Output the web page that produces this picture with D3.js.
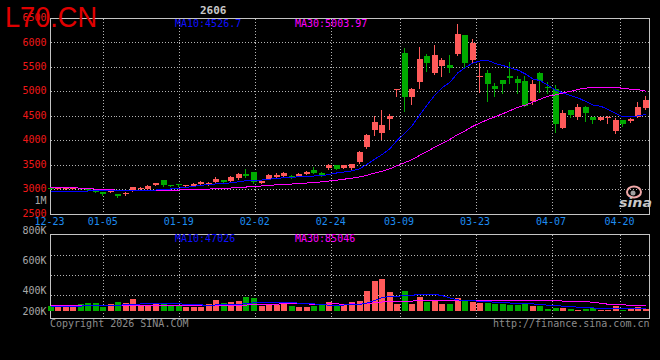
<!DOCTYPE html>
<html><head><meta charset="utf-8">
<script src="https://cdn.jsdelivr.net/npm/d3@7/dist/d3.min.js"></script>
<style>html,body{margin:0;padding:0;background:#000;overflow:hidden}</style>
</head><body><svg id="c" width="660" height="360"></svg>
<script>
const dates=["12-23","12-24","12-25","12-26","12-29","12-30","12-31",
"01-05","01-06","01-07","01-08","01-09","01-12","01-13","01-14","01-15","01-16",
"01-19","01-20","01-21","01-22","01-23","01-26","01-27","01-28","01-29","01-30",
"02-02","02-03","02-04","02-05","02-06","02-09","02-10","02-11","02-12","02-13",
"02-24","02-25","02-26","02-27","03-02","03-03","03-04","03-05","03-06",
"03-09","03-10","03-11","03-12","03-13","03-16","03-17","03-18","03-19","03-20",
"03-23","03-24","03-25","03-26","03-27","03-30","03-31","04-01","04-02","04-03",
"04-07","04-08","04-09","04-10","04-13","04-14","04-15","04-16","04-17",
"04-20","04-21","04-22","04-23","04-24"];
const open=[3030,3005,3010,3015,3025,3000,2966,2935,2946,2895,2890,2970,3015,3000,3082,3177,3075,3095,3075,3068,
3095,3095,3136,3190,3156,3224,3313,3340,3129,3211,3245,3258,3272,3272,3306,3394,3333,3428,3483,3435,
3422,3544,3857,4210,4149,4442,5020,5781,4884,5196,5720,5373,5523,5543,5768,6150,5640,5285,5373,5115,
5237,5319,5251,5210,4809,5373,5094,5040,4258,4618,4482,4686,4475,4414,4462,4197,4414,4400,4482,4652];
const high=[3045,3030,3045,3040,3030,3005,2975,2945,2968,2900,2930,3048,3045,3075,3130,3185,3080,3110,3092,3115,
3155,3135,3238,3195,3258,3333,3415,3345,3165,3313,3333,3347,3292,3320,3360,3442,3340,3510,3490,3497,
3510,3770,4125,4503,4625,4537,5047,5883,5067,5897,5761,5951,5679,5740,6380,6160,6068,5570,5434,5162,
5240,5598,5312,5312,5230,5400,5183,5128,4618,4625,4741,4690,4480,4480,4503,4448,4420,4460,4788,4905];
const low=[2995,2995,3005,3000,2995,2975,2930,2885,2935,2840,2880,2960,3000,2995,3075,3070,3055,3070,3070,3060,
3090,3090,3130,3136,3150,3204,3250,3125,3120,3205,3224,3250,3224,3265,3300,3326,3272,3420,3408,3428,
3394,3540,3830,4115,4034,4238,4904,4605,4741,5067,5421,5353,5319,5394,5750,5502,5590,4992,4809,4911,
4972,5162,4972,4700,4741,4992,4958,4176,4258,4482,4435,4400,4346,4405,4360,4142,4292,4380,4475,4640];
const close=[3005,3020,3030,3022,3000,2985,2939,2895,2960,2850,2925,3041,3022,3068,3122,3075,3061,3075,3088,3095,
3150,3129,3211,3150,3238,3313,3258,3135,3156,3279,3292,3320,3230,3313,3354,3333,3279,3483,3415,3490,
3503,3762,4115,4374,4312,4496,5040,4884,5047,5659,5577,5740,5638,5475,6176,5584,5993,5319,5156,5047,
5156,5271,5162,4700,5149,5217,5060,4333,4564,4516,4673,4550,4414,4475,4482,4414,4333,4430,4686,4822];
const ma10=[2952,2952,2950,2940,2940,2960,2972,2972,2972,2971,2963,2965,2964,2969,2981,2990,3002,3020,3033,3057,
3080,3089,3107,3116,3127,3151,3171,3177,3184,3202,3216,3235,3237,3253,3265,3267,3269,3304,3330,3351,
3372,3416,3505,3611,3707,3823,3999,4139,4302,4519,4727,4924,5077,5187,5373,5482,5577,5621,5632,5571,
5528,5482,5434,5356,5254,5217,5124,5025,4966,4913,4865,4792,4718,4695,4628,4548,4475,4485,4497,4527];
const ma30=[3034,3033,3027,3024,3020,3014,2998,2993,2985,2975,2968,2966,2966,2966,2968,2972,2975,2980,2986,2992,
2995,3000,3008,3015,3022,3032,3042,3052,3064,3077,3086,3096,3103,3113,3124,3136,3147,3167,3182,3203,
3223,3247,3283,3327,3366,3414,3480,3540,3605,3691,3772,3859,3940,4017,4115,4191,4282,4355,4421,4480,
4542,4607,4672,4718,4778,4841,4900,4928,4967,5001,5040,5066,5076,5079,5085,5082,5059,5044,5032,5004];
const volume=[56,42,42,42,70,81,81,42,70,92,81,123,56,56,81,81,56,56,42,42,
42,70,113,81,92,102,144,134,56,66,66,81,49,42,42,56,66,92,66,68,
92,102,207,313,334,197,70,207,70,144,92,113,70,70,134,113,92,81,81,70,
70,60,60,70,49,49,18,35,28,18,11,18,28,11,11,50,11,28,39,25].map(v=>v*1000);
const volMa10=[49,49,49,49,52,56,56,56,58,62,64,72,74,75,76,76,74,75,72,67,
64,58,64,66,68,70,78,86,88,90,92,94,87,83,78,74,66,62,63,63,
65,68,83,110,140,154,154,166,166,174,174,175,161,137,117,108,111,98,99,92,
89,84,83,83,75,68,61,56,51,46,40,36,32,27,23,23,22,21,23,23].map(v=>v*1000);
const volMa30=[57,57,57,57,57,57,57,57,57,57,57,63,63,63,63,63,63,63,63,63,
63,63,63,63,63,63,63,68,70,73,73,75,75,75,74,73,73,74,74,73,
74,73,78,87,95,99,99,105,105,109,111,112,111,110,112,112,110,108,109,109,
110,109,109,110,110,110,109,107,105,104,101,98,92,82,71,66,65,59,58,54].map(v=>v*1000);
const priceTicks=[6500,6000,5500,5000,4500,4000,3500,3000,2500];
const priceGrid=[6000,5500,5000,4500,4000,3500,3000];
const dateTicks=["12-23","01-05","01-19","02-02","02-24","03-09","03-23","04-07","04-20"];
const volTicks=[800000,600000,400000,200000];
const volTickText=["800K","600K","400K","200K"];
const legendMain=["MA10:4526.7","MA30:5003.97"];
const legendVol=["MA10:47026","MA30:85046"];

const svg=d3.select("#c");
svg.append("rect").attr("width",660).attr("height",360).attr("fill","#000");
const mono="'DejaVu Sans Mono', monospace";
const L=50.5,R=649.5;
const x=d3.scaleLinear().domain([0,dates.length-1]).range([50.5,646]);
const xGrid=d3.scaleLinear().domain([0,75]).range([50,620]);
const y=d3.scaleLinear().domain([2500,6500]).range([213.5,18]);
const yv=d3.scaleLinear().domain([0,800000]).range([311,235]);
const yvLab=d3.scaleLinear().domain([200000,800000]).range([320.5,230.7]);
const vTop=234.5,vBot=318.5;
const yvGrid=d3.scaleLinear().domain([0,4]).range([vTop,vTop+81]);
const px=v=>Math.round(v)+0.5;
const RED="#ff5a5a",GRN="#00aa00";
const grid=svg.append("g").attr("stroke","#b4b4b4").attr("stroke-dasharray","1,2").attr("shape-rendering","crispEdges");
const pTop=px(y(6500)),pBot=px(y(2500));
priceGrid.forEach(p=>grid.append("line").attr("x1",L).attr("x2",R).attr("y1",px(y(p))).attr("y2",px(y(p))));
dateTicks.slice(1).forEach(d=>{
  const gx=px(xGrid(dates.indexOf(d)));
  grid.append("line").attr("x1",gx).attr("x2",gx).attr("y1",pTop).attr("y2",pBot);
  grid.append("line").attr("x1",gx).attr("x2",gx).attr("y1",vTop).attr("y2",vBot);
});
[1,2,3].forEach(k=>grid.append("line").attr("x1",L).attr("x2",R).attr("y1",px(yvGrid(k))).attr("y2",px(yvGrid(k))));
const bord=svg.append("g").attr("fill","none").attr("stroke","#c4c4c4").attr("shape-rendering","crispEdges");
bord.append("rect").attr("x",L).attr("y",pTop).attr("width",R-L).attr("height",pBot-pTop);
bord.append("rect").attr("x",L).attr("y",vTop).attr("width",R-L).attr("height",vBot-vTop);

// candles and volume bars
const cg=svg.append("g").attr("shape-rendering","crispEdges");
dates.forEach((d,i)=>{
  const up=close[i]>=open[i];
  const col=up?RED:GRN;
  const left=Math.round(x(i)-3);
  cg.append("line").attr("x1",left+2.5).attr("x2",left+2.5).attr("y1",Math.round(y(high[i]))).attr("y2",Math.round(y(low[i]))+1).attr("stroke",col);
  const t=Math.round(y(Math.max(open[i],close[i]))),b=Math.round(y(Math.min(open[i],close[i])));
  cg.append("rect").attr("x",left).attr("y",t).attr("width",6).attr("height",Math.max(1,b-t)).attr("fill",col);
  const vt=Math.round(yv(volume[i]));
  cg.append("rect").attr("x",left).attr("y",vt).attr("width",6).attr("height",Math.max(1,311-vt)).attr("fill",col);
});
// MA lines
const lineP=d3.line().x((d,i)=>x(i)).y(d=>y(d));
const lineV=d3.line().x((d,i)=>x(i)).y(d=>yv(d));
const mg=svg.append("g").attr("fill","none").attr("stroke-width",1).attr("shape-rendering","crispEdges");
mg.append("path").attr("d",lineP(ma30)).attr("stroke","#ff00ff");
mg.append("path").attr("d",lineP(ma10)).attr("stroke","#0000ff");
mg.append("path").attr("d",lineV(volMa30)).attr("stroke","#ff00ff");
mg.append("path").attr("d",lineV(volMa10)).attr("stroke","#0000ff");

// texts
const tg=svg.append("g").attr("font-family",mono).attr("font-size",10);
priceTicks.forEach(p=>tg.append("text").attr("x",46.5).attr("y",y(p)+3.1).attr("text-anchor","end").attr("fill","#f01818").text(p));
tg.append("text").attr("x",46.5).attr("y",203.6).attr("text-anchor","end").attr("fill","#a8a8a8").text("1M");
dateTicks.forEach(d=>tg.append("text").attr("x",xGrid(dates.indexOf(d))-0.5).attr("y",225).attr("text-anchor","middle").attr("fill","#1e8cf0").text(d));
volTicks.forEach((v,k)=>tg.append("text").attr("x",46.5).attr("y",Math.min(yvLab(v),311)+3.6).attr("text-anchor","end").attr("fill","#a8a8a8").text(volTickText[k]));
tg.append("text").attr("x",175).attr("y",26.8).attr("fill","#1010ff").text(legendMain[0]);
tg.append("text").attr("x",295).attr("y",26.8).attr("fill","#ff00ff").text(legendMain[1]);
tg.append("text").attr("x",175).attr("y",241.8).attr("fill","#1010ff").text(legendVol[0]);
tg.append("text").attr("x",295).attr("y",241.8).attr("fill","#ff00ff").text(legendVol[1]);
tg.append("text").attr("x",50).attr("y",327).attr("fill","#8c8c8c").text("Copyright 2026 SINA.COM");
tg.append("text").attr("x",649.5).attr("y",327).attr("text-anchor","end").attr("fill","#8c8c8c").text("http://finance.sina.com.cn");
tg.append("text").attr("x",200).attr("y",13.5).attr("font-size",11).attr("font-weight","bold").attr("fill","#c8c8c8").text("2606");
svg.append("text").attr("x",5).attr("y",26.7).attr("font-family","'Liberation Sans', Arial, sans-serif").attr("font-size",29)
  .attr("textLength",92).attr("lengthAdjust","spacingAndGlyphs").attr("fill","#e00000").text("L70.CN");
// sina logo
const lg=svg.append("g");
lg.append("ellipse").attr("cx",634).attr("cy",192).attr("rx",7).attr("ry",5.5).attr("fill","none").attr("stroke","#f0a8a8").attr("stroke-width",2);
lg.append("circle").attr("cx",633).attr("cy",193).attr("r",2.5).attr("fill","#a0a0a0");
lg.append("text").attr("x",619).attr("y",206.5).attr("font-family","'DejaVu Sans', sans-serif").attr("font-size",13).attr("font-weight","bold").attr("font-style","italic")
  .attr("textLength",33).attr("lengthAdjust","spacingAndGlyphs").attr("fill","#c8c8c8").text("sina");
</script></body></html>
